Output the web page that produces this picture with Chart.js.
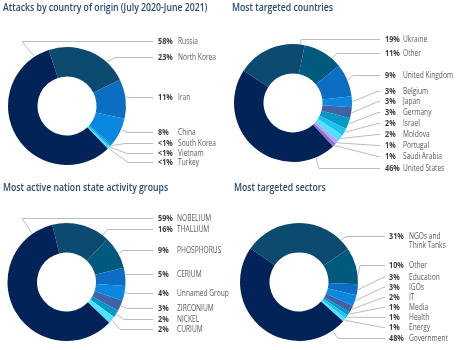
<!DOCTYPE html>
<html>
<head>
<meta charset="utf-8">
<script src="https://cdn.jsdelivr.net/npm/chart.js@4.4.1/dist/chart.umd.min.js"></script>
<style>
  html, body { margin: 0; padding: 0; background: #fff; }
  #grid { position: relative; width: 462px; height: 350px; overflow: hidden; }
  .cell { position: absolute; width: 231px; height: 175px; }
</style>
</head>
<body>
<div id="grid">
  <div class="cell" style="left:0;top:0"><canvas id="chart_origin"></canvas></div>
  <div class="cell" style="left:231px;top:0"><canvas id="chart_targets"></canvas></div>
  <div class="cell" style="left:0;top:175px"><canvas id="chart_groups"></canvas></div>
  <div class="cell" style="left:231px;top:175px"><canvas id="chart_sectors"></canvas></div>
</div>
<script>
/* ===== DADOS ===== */
// slices go clockwise from the rotation angle, the big navy one is last
const origin_title = "Attacks by country of origin (July 2020-June 2021)";
const origin_names = ["North Korea", "Iran", "China", "South Korea", "Vietnam", "Turkey", "Russia"];
const origin_values = [23, 11, 8, 0.5, 0.5, 0.5, 58];   // 0.5 = "<1%"

const targets_title = "Most targeted countries";
const targets_names = ["Ukraine", "Other", "United Kingdom", "Belgium", "Japan", "Germany", "Israel", "Moldova", "Portugal", "Saudi Arabia", "United States"];
const targets_values = [19, 11, 9, 3, 3, 3, 2, 2, 1, 1, 46];

const groups_title = "Most active nation state activity groups";
const groups_names = ["THALLIUM", "PHOSPHORUS", "CERIUM", "Unnamed Group", "ZIRCONIUM", "NICKEL", "CURIUM", "NOBELIUM"];
const groups_values = [16, 9, 5, 4, 3, 2, 2, 59];

const sectors_title = "Most targeted sectors";
const sectors_names = ["NGOs and\nThink Tanks", "Other", "Education", "IGOs", "IT", "Media", "Health", "Energy", "Government"];
const sectors_values = [31, 10, 3, 3, 2, 1, 1, 1, 48];

/* ===== CORES ===== */
const NAVY = "#012357";
const DEEP = "#0d4a6f";
const TEAL = "#005a7e";
const BLUE = "#0b6ec3";
const BRIGHT = "#0a88df";
const SLATE = "#3e63a6";
const SEA = "#0098c4";
const CYAN = "#1ac2ef";
const ICE = "#50e1ff";

const origin_colors = [DEEP, BLUE, BRIGHT, SEA, CYAN, ICE, NAVY];
const targets_colors = [DEEP, TEAL, BLUE, BRIGHT, SLATE, SEA, CYAN, ICE, "#b9a2f2", "#8d70d8", NAVY];
const groups_colors = [DEEP, TEAL, BLUE, BRIGHT, SLATE, SEA, ICE, NAVY];
const sectors_colors = [DEEP, TEAL, BLUE, BRIGHT, SLATE, SEA, CYAN, ICE, NAVY];

/* ===== LAYOUT DOS ROTULOS ===== */
// y of each label row, x of the leader elbow, where on the slice the leader starts
const origin_label_y = [57, 97, 132, 143, 153, 161.5, 41];
const origin_elbow_x = [115, 129, 127, 125, 127, 128, 22];
const origin_anchor = [0.74, 0.45, 0.37, 0.5, 0.5, 0.5, 0.925];

const targets_label_y = [38.5, 53, 75, 90.5, 101, 112, 123, 134, 145, 156, 167.5];
const targets_elbow_x = [70, 106, 122, 146, 147, 147, 147, 147, 147, 147, 88];
const targets_anchor = [0.94, 0.75, 0.5, 0.5, 0.5, 0.5, 0.5, 0.5, 0.5, 0.5, 0.12];

const groups_label_y = [53.5, 74.5, 99, 118, 132.5, 144, 154, 42.5];
const groups_elbow_x = [107, 122, 126, 128, 127, 124, 120, 22];
const groups_anchor = [0.9, 0.58, 0.36, 0.4, 0.5, 0.5, 0.5, 0.9];

const sectors_label_y = [61, 89.5, 101.5, 111.5, 121.5, 131.5, 141.5, 152, 162.5];
const sectors_elbow_x = [115, 129, 152, 152, 152, 152, 152, 152, 107];
const sectors_anchor = [0.9, 0.74, 0.5, 0.5, 0.5, 0.5, 0.5, 0.5, 0.08];

/* ===== PLUGIN DAS LINHAS ===== */
const SQUEEZE = 0.78;

function squeeze_text(ctx, text, x, y, factor) {
  let w = ctx.measureText(text).width;
  ctx.fillText(text, x, y, w * factor);
  return w * factor;
}

const leader_plugin = {
  id: 'leaders',
  afterDatasetsDraw(chart, args, opts) {
    const ctx = chart.ctx;
    const meta = chart.getDatasetMeta(0);
    const values = chart.data.datasets[0].data;
    const names = chart.data.labels;

    ctx.save();
    ctx.textAlign = 'left';
    ctx.textBaseline = 'middle';

    // titulo
    ctx.fillStyle = '#284a70';
    ctx.font = '600 10px "Open Sans"';
    squeeze_text(ctx, opts.title, opts.title_x, opts.title_y, 0.87);

    meta.data.forEach((arc, i) => {
      const p = arc.getProps(['x', 'y', 'startAngle', 'endAngle', 'outerRadius'], true);
      const ang = p.startAngle + (p.endAngle - p.startAngle) * opts.anchor[i];
      const ax = p.x + Math.cos(ang) * (p.outerRadius + 0.5);
      const ay = p.y + Math.sin(ang) * (p.outerRadius + 0.5);
      const ly = Math.round(opts.label_y[i]) + 0.5;

      ctx.strokeStyle = '#bcbcbc';
      ctx.lineWidth = 1;
      ctx.beginPath();
      ctx.moveTo(ax, ay);
      ctx.lineTo(opts.elbow_x[i], ly);
      ctx.lineTo(opts.line_end, ly);
      ctx.stroke();

      let pct = values[i] < 1 ? "<1%" : values[i] + "%";
      ctx.fillStyle = '#3c3c3c';
      ctx.font = '700 8.5px "Open Sans"';
      squeeze_text(ctx, pct, opts.pct_x, ly, 0.85);

      ctx.fillStyle = '#5a5a5a';
      ctx.font = '400 8.5px "Open Sans"';
      names[i].split("\n").forEach((row, k) => {
        squeeze_text(ctx, row, opts.name_x, ly + k * 9.5, SQUEEZE);
      });
    });
    ctx.restore();
  }
};

/* ===== GRAFICOS ===== */
function make_donut(canvas_id, names, values, colors, rotation, padding, labels) {
  const ctx = document.getElementById(canvas_id);
  return new Chart(ctx, {
    type: 'doughnut',
    data: {
      labels: names,
      datasets: [{ data: values, backgroundColor: colors, borderWidth: 0 }]
    },
    options: {
      responsive: true,
      maintainAspectRatio: false,
      devicePixelRatio: 1,
      animation: false,
      rotation: rotation,
      cutout: '50%',
      layout: { padding: padding },
      plugins: {
        legend: { display: false },
        tooltip: { enabled: false },
        leaders: labels
      }
    },
    plugins: [leader_plugin]
  });
}

const chart1 = make_donut('chart_origin', origin_names, origin_values, origin_colors, -18,
  { left: 8, top: 47, right: 105, bottom: 10 },
  { title: origin_title, title_x: 3, title_y: 8, label_y: origin_label_y, elbow_x: origin_elbow_x,
    anchor: origin_anchor, line_end: 153, pct_x: 158, name_x: 178 });

const chart2 = make_donut('chart_targets', targets_names, targets_values, targets_colors, -57,
  { left: 3, top: 44, right: 110, bottom: 13 },
  { title: targets_title, title_x: 1, title_y: 8, label_y: targets_label_y, elbow_x: targets_elbow_x,
    anchor: targets_anchor, line_end: 149, pct_x: 154, name_x: 172 });

const chart3 = make_donut('chart_groups', groups_names, groups_values, groups_colors, -14,
  { left: 7, top: 48, right: 105, bottom: 9 },
  { title: groups_title, title_x: 3, title_y: 13, label_y: groups_label_y, elbow_x: groups_elbow_x,
    anchor: groups_anchor, line_end: 153, pct_x: 158, name_x: 177 });

const chart4 = make_donut('chart_sectors', sectors_names, sectors_values, sectors_colors, -55.5,
  { left: 9, top: 48, right: 104, bottom: 9 },
  { title: sectors_title, title_x: 3, title_y: 13, label_y: sectors_label_y, elbow_x: sectors_elbow_x,
    anchor: sectors_anchor, line_end: 154, pct_x: 158, name_x: 178 });
</script>
</body>
</html>
